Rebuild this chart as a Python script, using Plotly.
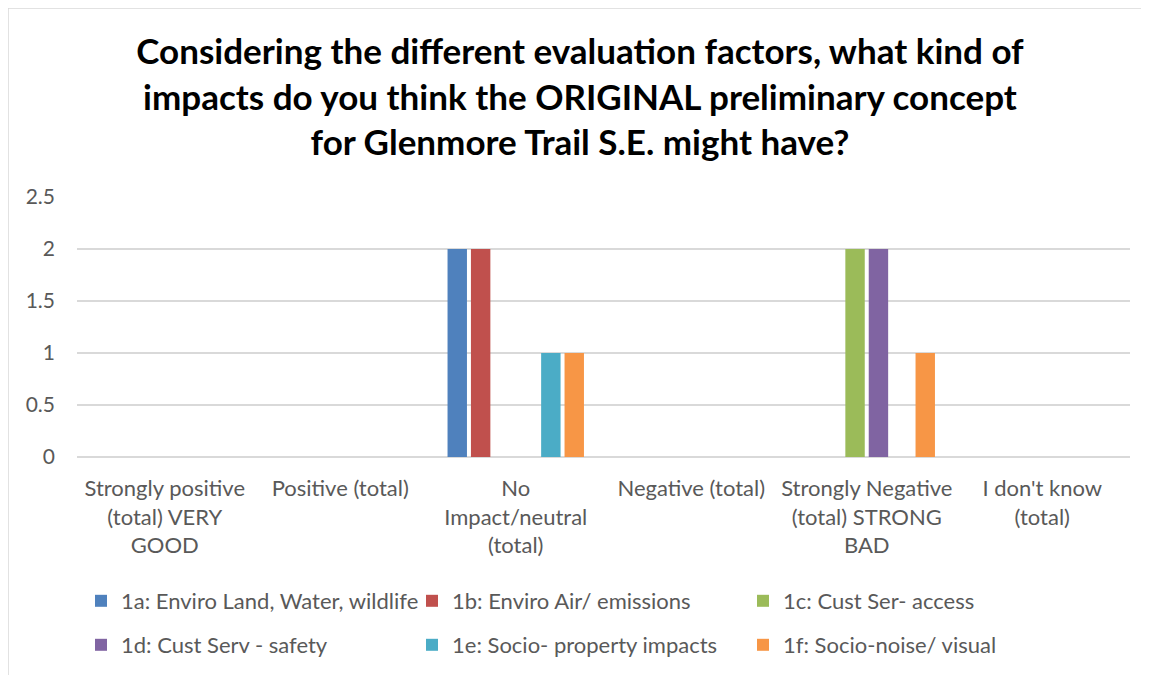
import plotly.graph_objects as go

categories = [
    "Strongly positive<br>(total) VERY<br>GOOD",
    "Positive (total)",
    "No<br>Impact/neutral<br>(total)",
    "Negative (total)",
    "Strongly Negative<br>(total) STRONG<br>BAD",
    "I don't know<br>(total)",
]
series_names = [
    "1a: Enviro Land, Water, wildlife",
    "1b: Enviro Air/ emissions",
    "1c: Cust Ser- access",
    "1d: Cust Serv - safety",
    "1e: Socio- property impacts",
    "1f: Socio-noise/ visual",
]
v_1a = [0, 0, 2, 0, 0, 0]
v_1b = [0, 0, 2, 0, 0, 0]
v_1c = [0, 0, 0, 0, 2, 0]
v_1d = [0, 0, 0, 0, 2, 0]
v_1e = [0, 0, 1, 0, 0, 0]
v_1f = [0, 0, 1, 0, 1, 0]
series_values = [v_1a, v_1b, v_1c, v_1d, v_1e, v_1f]
colors = ["#4f81bd", "#c0504d", "#9bbb59", "#8064a2", "#4bacc6", "#f79646"]
y_ticks = [0, 0.5, 1, 1.5, 2, 2.5]
title_text = ("Considering the different evaluation factors, what kind of<br>"
              "impacts do you think the ORIGINAL preliminary concept<br>"
              "for Glenmore Trail S.E. might have?")

FONT = "Lato"
GRAY = "#595959"

fig = go.Figure()
for i, (name, vals, col) in enumerate(zip(series_names, series_values, colors)):
    fig.add_trace(go.Bar(
        x=categories, y=vals, name=name, marker_color=col,
        marker_line_width=0,
        legend="legend" if i < 3 else "legend2",
    ))

# page is rendered with an 8px body margin
W, H = 1141, 667
L, R, T, B = 69, 19, 189, 218
pw, ph = W - L - R, H - T - B

def px_x(x):
    return (x - L) / pw

def px_y(y):
    return (H - B - y) / ph

legend_common = dict(
    orientation="h", xref="container", yref="container",
    xanchor="left", yanchor="middle",
    font=dict(family=FONT, size=22, color=GRAY),
    entrywidth=286, entrywidthmode="pixels", itemwidth=30,
    bgcolor="rgba(0,0,0,0)", traceorder="normal",
)

fig.update_layout(
    width=W, height=H,
    margin=dict(l=L, r=R, t=T, b=B),
    paper_bgcolor="white", plot_bgcolor="white",
    barmode="group", bargap=0.2, bargroupgap=0.17,
    title=dict(text=title_text, xref="container", x=572 / W, xanchor="center",
               yref="container", y=1 - 56 / H, yanchor="top",
               font=dict(family=FONT, size=35, color="black", weight="bold")),
    font=dict(family=FONT, size=22, color=GRAY),
    xaxis=dict(showgrid=False, showline=False, ticks="", tickangle=0,
               tickfont=dict(family=FONT, size=22, color=GRAY),
               ticklabelstandoff=16),
    yaxis=dict(range=[0, 2.5], tickvals=y_ticks, ticktext=[str(t) for t in y_ticks],
               showgrid=True, gridcolor="#d9d9d9", gridwidth=1.5,
               zeroline=True, zerolinecolor="#d9d9d9", zerolinewidth=1.5,
               showline=False, ticks="",
               tickfont=dict(family=FONT, size=21, color=GRAY),
               ticklabelstandoff=21),
    legend=dict(x=73 / W, y=1 - 593 / H, **legend_common),
    legend2=dict(x=73 / W, y=1 - 637 / H, **legend_common),
    shapes=[dict(type="rect", xref="paper", yref="paper",
                 x0=px_x(0), x1=px_x(1170), y0=px_y(700), y1=px_y(0),
                 line=dict(color="#d9d9d9", width=1.5), fillcolor="rgba(0,0,0,0)",
                 layer="below")],
)

fig.write_html("out.html")
